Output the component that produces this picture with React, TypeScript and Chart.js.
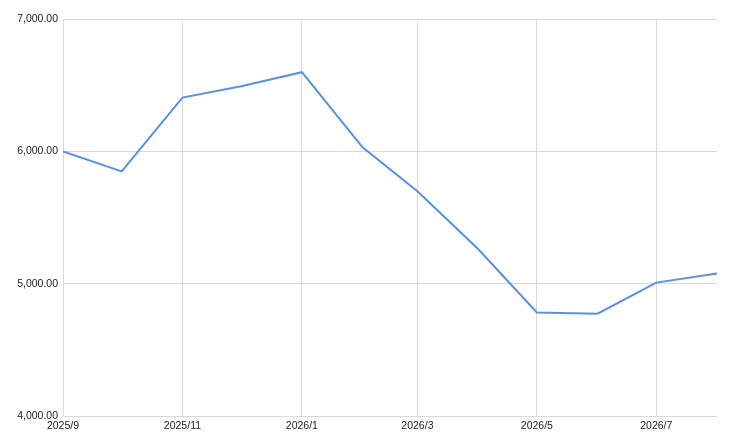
import React, { useEffect, useRef } from 'react';
import { Chart, registerables } from 'chart.js';

Chart.register(...registerables);

// monthly series
const months = [
  '2025-09', '2025-10', '2025-11', '2025-12', '2026-01', '2026-02',
  '2026-03', '2026-04', '2026-05', '2026-06', '2026-07', '2026-08',
];
const values = [6000, 5848, 6406, 6492, 6598, 6030, 5699, 5262, 4782, 4773, 5008, 5076];
const tickMonths = ['2025-09', '2025-11', '2026-01', '2026-03', '2026-05', '2026-07'];
const yTicks = [4000, 5000, 6000, 7000];

const toTime = (m: string) => {
  const [y, mo] = m.split('-').map(Number);
  return Date.UTC(y, mo - 1, 1);
};

const fmtMonth = (t: number) => {
  const d = new Date(t);
  return `${d.getUTCFullYear()}/${d.getUTCMonth() + 1}`;
};

const App: React.FC = () => {
  const canvasRef = useRef<HTMLCanvasElement | null>(null);
  const chartRef = useRef<Chart | null>(null);

  useEffect(() => {
    if (!canvasRef.current) return;
    const ctx = canvasRef.current.getContext('2d');
    if (!ctx) return;

    const font = { family: 'Arial, "Liberation Sans", sans-serif', size: 10.5 };

    chartRef.current = new Chart(ctx, {
      type: 'line',
      data: {
        datasets: [
          {
            data: months.map((m, i) => ({ x: toTime(m), y: values[i] })),
            borderColor: '#5a8fe3',
            borderWidth: 2,
            pointRadius: 0,
            tension: 0,
            fill: false,
          },
        ],
      },
      options: {
        animation: false,
        responsive: true,
        maintainAspectRatio: false,
        layout: { padding: { top: 19, right: 17, left: 0, bottom: 0 } },
        plugins: { legend: { display: false }, tooltip: { enabled: false } },
        scales: {
          x: {
            type: 'linear',
            min: toTime(months[0]),
            max: toTime(months[months.length - 1]),
            afterBuildTicks: (axis: any) => {
              axis.ticks = tickMonths.map((m) => ({ value: toTime(m) }));
            },
            afterFit: (axis: any) => {
              axis.height = 27;
            },
            grid: { color: '#d9d9d9', drawTicks: false },
            border: { display: false },
            ticks: {
              padding: 4,
              color: '#222',
              font,
              maxRotation: 0,
              autoSkip: false,
              callback: (v: any) => fmtMonth(Number(v)),
            },
          },
          y: {
            min: 4000,
            max: 7000,
            afterBuildTicks: (axis: any) => {
              axis.ticks = yTicks.map((v) => ({ value: v }));
            },
            afterFit: (axis: any) => {
              axis.width = 63;
            },
            grid: { color: '#d9d9d9', drawTicks: false },
            border: { display: false },
            ticks: {
              padding: 5,
              color: '#222',
              font,
              callback: (v: any) =>
                Number(v).toLocaleString('en-US', { minimumFractionDigits: 2, maximumFractionDigits: 2 }),
            },
          },
        },
      },
    });

    return () => {
      chartRef.current?.destroy();
      chartRef.current = null;
    };
  }, []);

  return (
    <div style={{ position: 'fixed', left: 0, top: 0, width: 734, height: 443, background: '#fff' }}>
      <canvas ref={canvasRef} />
    </div>
  );
};

export default App;
